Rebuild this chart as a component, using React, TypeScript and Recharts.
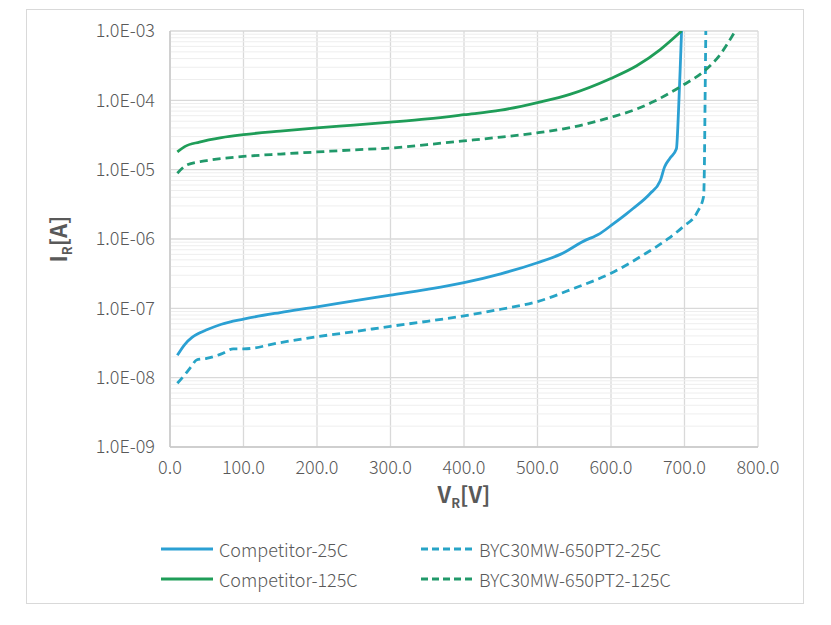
import { CartesianGrid, Label, Line, LineChart, ReferenceLine, XAxis, YAxis } from "recharts";

// Reverse leakage current vs reverse voltage, log Y axis.
const xTicks = [0, 100, 200, 300, 400, 500, 600, 700, 800];
const yTicks = [1e-9, 1e-8, 1e-7, 1e-6, 1e-5, 1e-4, 1e-3];
const minorSteps = [2, 3, 4, 5, 6, 7, 8, 9];

const comp25V = [10, 20, 30, 40, 50, 70, 100, 150, 200, 250, 300, 350, 400, 450, 500, 531, 567, 576, 582, 603, 621, 630, 653, 667, 673, 680, 689, 692, 694, 696];
const comp25I = [2.1e-8, 3.0e-8, 3.8e-8, 4.4e-8, 4.9e-8, 5.9e-8, 7.0e-8, 8.7e-8, 1.05e-7, 1.28e-7, 1.55e-7, 1.88e-7, 2.35e-7, 3.15e-7, 4.55e-7, 6.0e-7, 9.8e-7, 1.07e-6, 1.15e-6, 1.65e-6, 2.3e-6, 2.75e-6, 4.5e-6, 6.9e-6, 1.1e-5, 1.45e-5, 2.0e-5, 7.7e-5, 2.6e-4, 1e-3];

const byc25V = [10, 20, 30, 36, 50, 70, 86, 100, 150, 200, 250, 300, 350, 400, 450, 500, 550, 600, 644, 676, 698, 717, 726, 727, 728, 729];
const byc25I = [8.3e-9, 1.1e-8, 1.5e-8, 1.8e-8, 1.9e-8, 2.2e-8, 2.6e-8, 2.6e-8, 3.2e-8, 3.9e-8, 4.6e-8, 5.5e-8, 6.5e-8, 7.8e-8, 9.7e-8, 1.25e-7, 1.95e-7, 3.2e-7, 5.9e-7, 9.8e-7, 1.5e-6, 2.4e-6, 4.1e-6, 1e-5, 1e-4, 1e-3];

const comp125V = [10, 20, 40, 70, 100, 150, 200, 250, 300, 350, 400, 450, 500, 544, 599, 635, 667, 696];
const comp125I = [1.8e-5, 2.15e-5, 2.5e-5, 2.9e-5, 3.2e-5, 3.6e-5, 4.0e-5, 4.4e-5, 4.85e-5, 5.4e-5, 6.2e-5, 7.2e-5, 9.3e-5, 1.22e-4, 2.05e-4, 3.15e-4, 5.4e-4, 1e-3];

const byc125V = [10, 23, 50, 100, 150, 200, 250, 300, 350, 400, 450, 500, 550, 600, 635, 658, 698, 726, 748, 769];
const byc125I = [8.9e-6, 1.17e-5, 1.35e-5, 1.55e-5, 1.68e-5, 1.8e-5, 1.93e-5, 2.05e-5, 2.3e-5, 2.6e-5, 2.95e-5, 3.4e-5, 4.15e-5, 5.7e-5, 7.5e-5, 9.6e-5, 1.66e-4, 2.6e-4, 4.5e-4, 1e-3];

const toPoints = (vs: number[], is: number[]) => vs.map((v, k) => ({ v, i: is[k] }));

const series = [
  { name: "Competitor-25C", data: toPoints(comp25V, comp25I), color: "#2BA0D3", dashed: false },
  { name: "BYC30MW-650PT2-25C", data: toPoints(byc25V, byc25I), color: "#27A4C6", dashed: true },
  { name: "Competitor-125C", data: toPoints(comp125V, comp125I), color: "#1F9D58", dashed: false },
  { name: "BYC30MW-650PT2-125C", data: toPoints(byc125V, byc125I), color: "#21996A", dashed: true },
];

// 2..9 x 10^n between the decade lines
const minorTicks = yTicks.slice(0, -1).flatMap((d) => minorSteps.map((m) => m * d));

const FONT = "'Noto Sans CJK SC', 'Noto Sans', sans-serif";
const GREY = "#595959";

function sci(v: number): string {
  const exp = Math.round(Math.log10(v));
  const mant = v / Math.pow(10, exp);
  const sign = exp < 0 ? "-" : "+";
  return `${mant.toFixed(1)}E${sign}${String(Math.abs(exp)).padStart(2, "0")}`;
}

function XTitle(props: any) {
  const { x, y, width } = props.viewBox;
  return (
    <text x={x + width / 2} y={y + 56} textAnchor="middle" fontFamily={FONT} fontSize={22} fontWeight={700} fill={GREY}>
      <tspan>V</tspan>
      <tspan dy={5} fontSize={13}>R</tspan>
      <tspan dy={-5}>[V]</tspan>
    </text>
  );
}

function YTitle(props: any) {
  const { y, height } = props.viewBox;
  return (
    <text
      transform={`translate(67, ${y + height / 2}) rotate(-90)`}
      textAnchor="middle"
      fontFamily={FONT}
      fontSize={22}
      fontWeight={700}
      fill={GREY}
    >
      <tspan>I</tspan>
      <tspan dy={5} fontSize={13}>R</tspan>
      <tspan dy={-5}>[A]</tspan>
    </text>
  );
}

function LegendBox() {
  return (
    <>
      {series.map((s, k) => {
        const col = k % 2;
        const row = Math.floor(k / 2);
        return (
          <div
            key={s.name}
            style={{
              position: "absolute",
              left: 161 + col * 260,
              top: 549 + row * 29.5 - 12,
              height: 24,
              display: "flex",
              alignItems: "center",
              fontFamily: FONT,
              fontSize: 18,
              fontWeight: 300,
              color: GREY,
              whiteSpace: "nowrap",
            }}
          >
            <svg width={52} height={6}>
              <line x1={0} y1={3} x2={52} y2={3} stroke={s.color} strokeWidth={3} strokeDasharray={s.dashed ? "7 4" : undefined} />
            </svg>
            <span style={{ marginLeft: 6 }}>{s.name}</span>
          </div>
        );
      })}
    </>
  );
}

export default function App() {
  return (
    <div style={{ position: "absolute", left: 0, top: 0, width: 831, height: 625, background: "#fff" }}>
      <div
        style={{
          position: "absolute",
          left: 26,
          top: 9,
          width: 776,
          height: 593,
          border: "1.5px solid #D9D9D9",
        }}
      />
      <LineChart width={831} height={625} margin={{ top: 31, right: 73, bottom: 148, left: 0 }}>
        {minorTicks.map((t) => (
          <ReferenceLine key={t} y={t} stroke="#EEEEEE" strokeWidth={1} />
        ))}
        <CartesianGrid stroke="#D9D9D9" strokeWidth={1.3} />
        <XAxis
          dataKey="v"
          type="number"
          domain={[0, 800]}
          ticks={xTicks}
          allowDataOverflow
          tickFormatter={(v: number) => v.toFixed(1)}
          tick={{ fontFamily: FONT, fontSize: 18, fontWeight: 300, fill: GREY }}
          tickLine={false}
          tickSize={6}
          tickMargin={8}
          axisLine={{ stroke: "#C9C9C9", strokeWidth: 1.5 }}
          height={30}
        >
          <Label content={XTitle} />
        </XAxis>
        <YAxis
          type="number"
          scale="log"
          domain={[1e-9, 1e-3]}
          ticks={yTicks}
          allowDataOverflow
          tickFormatter={sci}
          tick={{ fontFamily: FONT, fontSize: 18, fontWeight: 300, fill: GREY }}
          tickLine={false}
          tickSize={6}
          tickMargin={9}
          axisLine={{ stroke: "#C9C9C9", strokeWidth: 1.5 }}
          width={170}
        >
          <Label content={YTitle} />
        </YAxis>
        {series.map((s) => (
          <Line
            key={s.name}
            data={s.data}
            dataKey="i"
            name={s.name}
            type="monotone"
            stroke={s.color}
            strokeWidth={2.8}
            strokeDasharray={s.dashed ? "8 5" : undefined}
            dot={false}
            activeDot={false}
            isAnimationActive={false}
          />
        ))}
      </LineChart>
      <LegendBox />
    </div>
  );
}
